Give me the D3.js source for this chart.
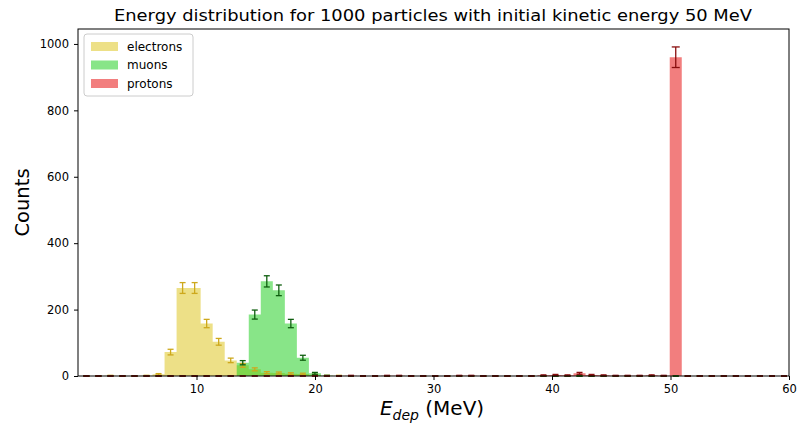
<!DOCTYPE html>
<html>
<head>
<meta charset="utf-8">
<script src="https://cdn.jsdelivr.net/npm/d3@7"></script>
<style>
  body { margin: 0; background: #fff; }
  text { font-family: "DejaVu Sans", sans-serif; }
</style>
</head>
<body>
<svg id="chart" width="797" height="425"></svg>
<script>
// histogram bins (MeV): 59 bins of equal width
var binLo = 0.2, binW = 1.015, nBins = 59;
var binEdges = d3.range(nBins + 1).map(function(i) { return binLo + i * binW; });

// counts per bin
var electrons = [0,0,1,0,0,1,5,72,265,265,158,103,47,32,20,10,9,7,6,3,1,1,0,0,0,0,0,0,0,0,
                 0,0,0,0,0,0,0,0,0,0,0,0,0,0,0,0,0,0,0,0,0,0,0,0,0,0,0,0,0];
var muons     = [0,0,0,0,0,0,0,0,0,0,0,0,0,40,185,285,258,158,55,8,1,0,0,0,0,0,0,0,0,0,
                 0,0,0,0,0,0,0,0,0,0,0,0,0,0,0,0,0,0,0,0,0,0,0,0,0,0,0,0,0];
var protons   = [0,0,0,0,0,0,0,0,0,0,0,0,0,0,0,0,0,0,0,0,0,0,1,0,0,1,1,0,0,0,
                 0,1,1,0,0,0,0,0,2,3,2,8,3,2,1,1,1,2,1,960,0,0,0,0,0,0,0,0,0];

var seriesNames = ["electrons", "muons", "protons"];
var xTicks = [10, 20, 30, 40, 50, 60];
var yTicks = [0, 200, 400, 600, 800, 1000];

var fills = { electrons: "#dcc10f", muons: "#12cc12", protons: "#e81414" };
var fillOp = { electrons: 0.5, muons: 0.5, protons: 0.55 };
var errCol = { electrons: "#cda81c", muons: "#0e5e0e", protons: "#8a0f0f" };

var svg = d3.select("#chart");
var margin = { left: 78, right: 8, top: 29, bottom: 49 };
var W = 797, H = 425;

var x = d3.scaleLinear().domain([0, 60]).range([margin.left, W - margin.right]);
var y = d3.scaleLinear().domain([0, 1045]).range([H - margin.bottom, margin.top]);

var data = { electrons: electrons, muons: muons, protons: protons };

// filled step histograms
var area = d3.area()
  .curve(d3.curveStepAfter)
  .x(function(d) { return x(d[0]); })
  .y0(y(0))
  .y1(function(d) { return y(d[1]); });

seriesNames.forEach(function(name) {
  var counts = data[name];
  var pts = counts.map(function(c, i) { return [binEdges[i], c]; });
  pts.push([binEdges[nBins], counts[nBins - 1]]);
  svg.append("path")
    .datum(pts)
    .attr("d", area)
    .attr("fill", fills[name])
    .attr("fill-opacity", fillOp[name]);
});

// error bars sqrt(N) at bin centres
seriesNames.forEach(function(name) {
  var g = svg.append("g").attr("stroke", errCol[name]).attr("stroke-width", 1.3);
  data[name].forEach(function(c, i) {
    var cx = x((binEdges[i] + binEdges[i + 1]) / 2);
    if (cx > x(60)) return;
    var e = Math.sqrt(c);
    var cw = name == "protons" && c > 100 ? 4 : 3;
    g.append("line").attr("x1", cx).attr("x2", cx).attr("y1", y(c - e)).attr("y2", y(c + e));
    g.append("line").attr("x1", cx - cw).attr("x2", cx + cw).attr("y1", y(c + e)).attr("y2", y(c + e));
    g.append("line").attr("x1", cx - cw).attr("x2", cx + cw).attr("y1", y(c - e)).attr("y2", y(c - e));
  });
});

// frame
svg.append("rect")
  .attr("x", margin.left).attr("y", margin.top)
  .attr("width", W - margin.left - margin.right)
  .attr("height", H - margin.top - margin.bottom)
  .attr("fill", "none").attr("stroke", "#000").attr("stroke-width", 1);

// axes
var xAxis = svg.append("g")
  .attr("transform", "translate(0," + (H - margin.bottom) + ")")
  .call(d3.axisBottom(x).tickValues(xTicks).tickSize(4).tickPadding(5).tickFormat(d3.format("d")));
var yAxis = svg.append("g")
  .attr("transform", "translate(" + margin.left + ",0)")
  .call(d3.axisLeft(y).tickValues(yTicks).tickSize(4).tickPadding(5).tickFormat(d3.format("d")));
[xAxis, yAxis].forEach(function(a) {
  a.select(".domain").remove();
  a.selectAll("text").attr("font-size", 11.5).attr("fill", "#000")
    .style("font-family", "DejaVu Sans, sans-serif");
  a.selectAll("line").attr("stroke", "#000");
});

// title and labels
svg.append("text")
  .attr("x", 433).attr("y", 21)
  .attr("text-anchor", "middle").attr("font-size", 16)
  .attr("textLength", 638).attr("lengthAdjust", "spacingAndGlyphs")
  .text("Energy distribution for 1000 particles with initial kinetic energy 50 MeV");

svg.append("text")
  .attr("transform", "translate(29," + ((margin.top + H - margin.bottom) / 2) + ") rotate(-90)")
  .attr("text-anchor", "middle").attr("font-size", 19.5)
  .text("Counts");

var xl = svg.append("text")
  .attr("x", 432).attr("y", 415)
  .attr("text-anchor", "middle").attr("font-size", 20);
xl.append("tspan").attr("font-style", "italic").text("E");
xl.append("tspan").attr("font-style", "italic").attr("font-size", 14).attr("dy", 5).text("dep");
xl.append("tspan").attr("dy", -5).text(" (MeV)");

// legend
var lg = svg.append("g").attr("transform", "translate(84,34)");
lg.append("rect").attr("width", 109).attr("height", 62).attr("rx", 3)
  .attr("fill", "#fff").attr("fill-opacity", 0.8).attr("stroke", "#ccc");
seriesNames.forEach(function(name, i) {
  lg.append("rect").attr("x", 7).attr("y", 8 + i * 18.5).attr("width", 27).attr("height", 9)
    .attr("fill", fills[name]).attr("fill-opacity", fillOp[name]);
  lg.append("text").attr("x", 43).attr("y", 16.5 + i * 18.5).attr("font-size", 12).text(name);
});
</script>
</body>
</html>
